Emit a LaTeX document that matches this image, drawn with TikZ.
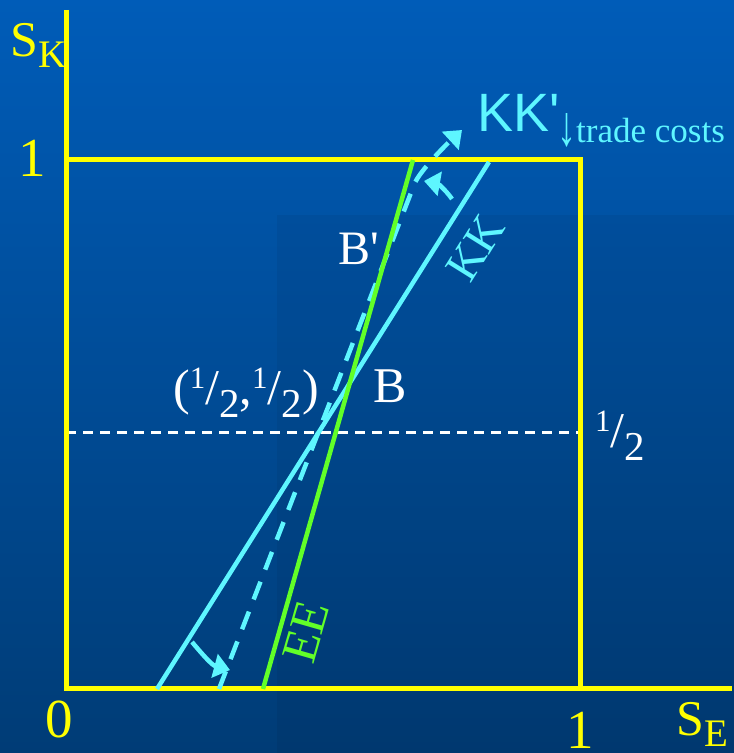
\documentclass[tikz,border=0pt]{standalone}
\usepackage{fontspec}
\usepackage{graphicx}
\setmainfont{Liberation Serif}
\newfontfamily\arialfont{Liberation Sans}
\usetikzlibrary{arrows.meta}
\definecolor{bgtop}{RGB}{0,92,184}
\definecolor{bgbot}{RGB}{0,60,118}
\definecolor{axisyel}{RGB}{255,255,0}
\definecolor{kkcyan}{RGB}{94,246,255}
\definecolor{eegreen}{RGB}{98,255,40}
\newcommand{\fs}[1]{\fontsize{#1}{#1}\selectfont}
\newcommand{\halfval}{\raisebox{16pt}{\fs{31}1}/\raisebox{-13pt}{\fs{41}2}}
\newcommand{\lowsub}[1]{\raisebox{-11pt}{\fs{39}#1}}
\newcommand{\downarr}{\raisebox{-3pt}{\resizebox{19pt}{32pt}{↓}}}

\begin{document}
\begin{tikzpicture}[x=1pt,y=1pt,
  axisline/.style={axisyel,line width=5pt},
  kkline/.style={kkcyan,line width=4.5pt},
  eeline/.style={eegreen,line width=4.5pt},
  turn/.style={kkcyan,line width=4.5pt,-{Triangle[length=16pt,width=24pt]}},
  lbl/.style={inner sep=0pt,font=\fs{50}}]
  \shade[top color=bgtop,bottom color=bgbot] (0,0) rectangle (734,753);
  \fill[black,opacity=0.05] (277,0) rectangle (734,538);
  \useasboundingbox (0,0) rectangle (734,753);

  \coordinate (O)    at (66,64);
  \coordinate (ytop) at (66,743);
  \coordinate (xend) at (732,64);
  \coordinate (TL)   at (66,593);
  \coordinate (TR)   at (580,593);
  \coordinate (BR)   at (580,64);
  \coordinate (HL)   at (66,320);
  \coordinate (HR)   at (580,320);
  \coordinate (kkb)  at (157,64);
  \coordinate (kkt)  at (489,591);
  \coordinate (eeb)  at (263,64);
  \coordinate (eet)  at (413,593);
  \coordinate (kkpb) at (219,64);
  \coordinate (kkpm) at (414,568);
  \coordinate (kkpt) at (462,623);
  \coordinate (ta)   at (192,111);
  \coordinate (tb)   at (230,83);
  \coordinate (tc)   at (452,554);
  \coordinate (td)   at (424,572);

  \draw[white,line width=3pt,dash pattern=on 10pt off 7pt] (HL) -- (HR);
  \draw[axisline] (ytop) -- (O) -- (xend);
  \draw[axisline] (TL) -- (TR) -- (BR);
  \draw[kkline] (kkb) -- (kkt);
  \draw[kkline,dash pattern=on 19pt off 13pt,-{Triangle[length=16pt,width=24pt]}]
    (kkpb) -- (kkpm) .. controls (419,582) and (449,611) .. (kkpt);
  \draw[eeline] (eeb) -- (eet);
  \draw[turn] (ta) to[out=-50,in=165] (tb);
  \draw[turn] (tc) to[out=125,in=-10] (td);

  \node[lbl,text=axisyel,anchor=base west] (sk) at (10,696) {S\lowsub{K}};
  \node[lbl,text=axisyel,anchor=base west] (se) at (676,17) {S\lowsub{E}};
  \node[lbl,text=axisyel,anchor=base,font=\fs{55}] (onek) at (32,576) {1};
  \node[lbl,text=axisyel,anchor=base,font=\fs{55}] (zero) at (59,16) {0};
  \node[lbl,text=axisyel,anchor=base,font=\fs{55}] (onee) at (580,5) {1};
  \node[lbl,text=white,anchor=base west] (halfk) at (595,305) {\halfval};
  \node[lbl,text=white,anchor=base west] (mid) at (173,348) {(\halfval,\halfval)};
  \node[lbl,text=white,anchor=base west] (lblB) at (373,350) {B};
  \node[lbl,text=white,anchor=base west,font=\fs{48}] (lblBp) at (338,488) {B\textquotesingle};
  \node[lbl,text=kkcyan,anchor=base west,font=\arialfont\fs{54}] (lblKKp) at (477,621) {KK\textquotesingle};
  \node[lbl,text=kkcyan,anchor=base west,font=\fs{35}] (lbltc) at (557,610) {\downarr trade costs};
  \node[lbl,text=kkcyan,rotate=58,font=\fs{47}] (lblKK) at (475,505) {KK};
  \node[lbl,text=eegreen,rotate=74] (lblEE) at (306,121) {EE};
\end{tikzpicture}
\end{document}
